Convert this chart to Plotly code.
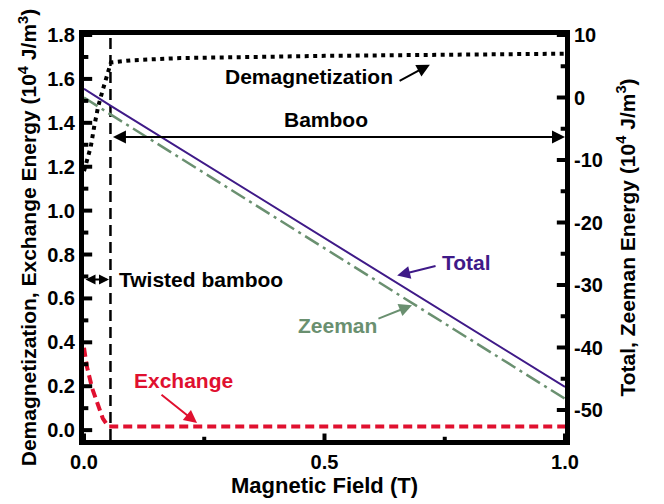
import plotly.graph_objects as go

# ---- data ----
field_total = [0.0, 0.055, 1.0]
total_energy = [1.4, -1.3, -46.3]           # 10^4 J/m^3 (right axis)

field_zeeman = [0.0, 0.055, 1.0]
zeeman_energy = [0.0, -2.7, -48.2]          # 10^4 J/m^3 (right axis)

field_demag = [0.0, 0.004, 0.010, 0.014, 0.021, 0.029, 0.039, 0.050, 0.056, 0.1, 0.2, 0.5, 1.0]
demag_energy = [1.18, 1.21, 1.25, 1.29, 1.38, 1.47, 1.55, 1.63, 1.675, 1.685, 1.695, 1.705, 1.715]

field_exch = [0.0, 0.006, 0.017, 0.029, 0.039, 0.050, 0.056, 0.5, 1.0]
exch_energy = [0.375, 0.29, 0.19, 0.11, 0.054, 0.017, 0.017, 0.017, 0.017]

transition_field = [0.055, 0.055]
transition_span = [-0.045, 1.8]

x_ticks = [0.0, 0.5, 1.0]
x_ticklabels = ["0.0", "0.5", "1.0"]
x_minor_ticks = [0.25, 0.75]
left_ticks = [0.0, 0.2, 0.4, 0.6, 0.8, 1.0, 1.2, 1.4, 1.6, 1.8]
left_ticklabels = ["0.0", "0.2", "0.4", "0.6", "0.8", "1.0", "1.2", "1.4", "1.6", "1.8"]
left_minor_ticks = [0.1, 0.3, 0.5, 0.7, 0.9, 1.1, 1.3, 1.5, 1.7]
right_ticks = [-50, -40, -30, -20, -10, 0, 10]
right_ticklabels = ["-50", "-40", "-30", "-20", "-10", "0", "10"]
right_minor_ticks = [-45, -35, -25, -15, -5, 5]

X_RANGE = [0, 1]
LEFT_RANGE = [-0.045, 1.8001]
RIGHT_RANGE = [-54.8, 10.001]

PURPLE = "#3f1a88"
GREEN = "#6a9070"
RED = "#e0102f"
FONT = "Liberation Sans, Arial, Helvetica, sans-serif"

fig = go.Figure()

fig.add_trace(go.Scatter(x=transition_field, y=transition_span, mode="lines",
                         line=dict(color="black", width=2.5, dash="11px,6px"),
                         hoverinfo="skip", showlegend=False))
fig.add_trace(go.Scatter(x=field_demag, y=demag_energy, mode="lines",
                         line=dict(color="black", width=4, dash="4px,4.5px"),
                         name="Demagnetization", showlegend=False))
fig.add_trace(go.Scatter(x=field_exch, y=exch_energy, mode="lines",
                         line=dict(color=RED, width=4, dash="9px,5px"),
                         name="Exchange", showlegend=False))
fig.add_trace(go.Scatter(x=field_zeeman, y=zeeman_energy, mode="lines", yaxis="y2",
                         line=dict(color=GREEN, width=2.5, dash="16px,5px,3px,5px"),
                         name="Zeeman", showlegend=False))
fig.add_trace(go.Scatter(x=field_total, y=total_energy, mode="lines", yaxis="y2",
                         line=dict(color=PURPLE, width=2),
                         name="Total", showlegend=False))

tickfont = dict(family=FONT, size=20, color="black", weight="bold")
titlefont = dict(family=FONT, size=22, color="black", weight="bold")
ytitlefont = dict(family=FONT, size=21, color="black", weight="bold")

common = dict(showgrid=False, zeroline=False, ticks="", showline=True, linewidth=5, linecolor="black")

fig.update_layout(
    width=664, height=504,
    margin=dict(l=84, r=99, t=35, b=60),
    paper_bgcolor="white", plot_bgcolor="white",
    font=dict(family=FONT),
    xaxis=dict(
        common, range=X_RANGE, tickmode="array", tickvals=x_ticks, ticktext=x_ticklabels,
        mirror=True, tickfont=tickfont,
        title=dict(text="Magnetic Field (T)", font=titlefont, standoff=4),
    ),
    yaxis=dict(
        common, range=LEFT_RANGE, tickmode="array", tickvals=left_ticks, ticktext=left_ticklabels,
        tickfont=tickfont,
        title=dict(text="Demagnetization, Exchange Energy (10<sup>4</sup> J/m<sup>3</sup>)",
                   font=ytitlefont, standoff=6),
    ),
    yaxis2=dict(
        common, overlaying="y", side="right", anchor="x",
        range=RIGHT_RANGE, tickmode="array", tickvals=right_ticks, ticktext=right_ticklabels,
        tickfont=tickfont,
        title=dict(text="Total, Zeeman Energy (10<sup>4</sup> J/m<sup>3</sup>)",
                   font=ytitlefont, standoff=20),
    ),
)

# inward tick marks at the tick values (lengths as fractions of the plot area)
TICK = dict(color="black", width=4)
for vals, major in ((x_ticks, True), (x_minor_ticks, False)):
    for v in vals:
        fig.add_shape(type="line", xref="x", yref="paper", x0=v, x1=v,
                      y0=0, y1=0.016 if major else 0.008, line=TICK)
for vals, major in ((left_ticks, True), (left_minor_ticks, False)):
    for v in vals:
        fig.add_shape(type="line", xref="paper", yref="y", y0=v, y1=v,
                      x0=0, x1=0.017 if major else 0.009, line=TICK)
for vals, major in ((right_ticks, True), (right_minor_ticks, False)):
    for v in vals:
        fig.add_shape(type="line", xref="paper", yref="y2", y0=v, y1=v,
                      x0=1 - (0.017 if major else 0.009), x1=1, line=TICK)

afont = dict(family=FONT, size=21, weight="bold")

def label(text, x, y, color, xanchor="center"):
    fig.add_annotation(x=x, y=y, xref="x", yref="y", text=text, showarrow=False,
                       xanchor=xanchor, yanchor="middle",
                       font=dict(afont, color=color))

def arrow(x0, y0, x1, y1, color, both=False, size=1.3):
    fig.add_annotation(x=x1, y=y1, ax=x0, ay=y0, xref="x", yref="y", axref="x", ayref="y",
                       text="", showarrow=True, arrowhead=2, arrowsize=size, arrowwidth=2,
                       arrowcolor=color, startarrowhead=2, startarrowsize=size,
                       arrowside="end+start" if both else "end", standoff=0, startstandoff=0)

label("Demagnetization", 0.468, 1.611, "black")
arrow(0.653, 1.588, 0.719, 1.665, "black")
label("Bamboo", 0.503, 1.417, "black")
arrow(0.057, 1.335, 1.0, 1.335, "black", both=True)
label("Twisted bamboo", 0.0686, 0.686, "black", xanchor="left")
arrow(0.0, 0.686, 0.052, 0.686, "black", both=True, size=1.0)
label("Total", 0.796, 0.763, PURPLE)
arrow(0.734, 0.749, 0.651, 0.704, PURPLE)
label("Zeeman", 0.526, 0.478, GREEN)
arrow(0.609, 0.505, 0.682, 0.569, GREEN)
label("Exchange", 0.206, 0.226, RED)
arrow(0.158, 0.167, 0.235, 0.032, RED)

fig.write_html("out.html")
